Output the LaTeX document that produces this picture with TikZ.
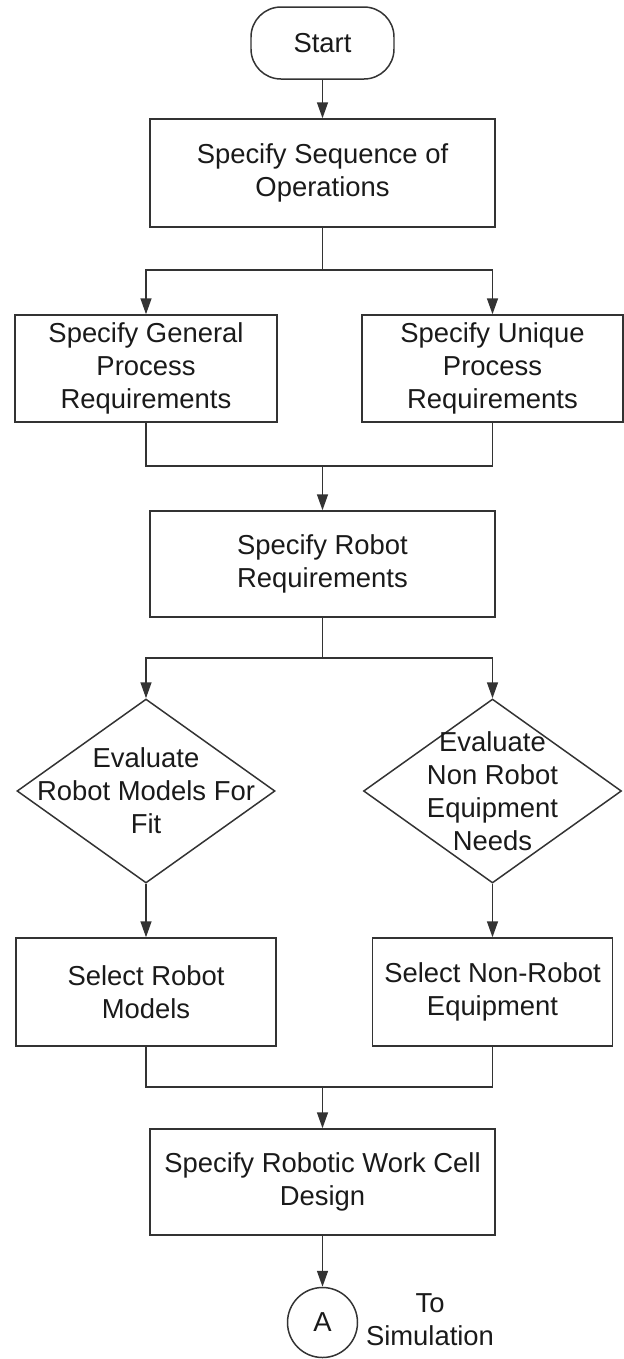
\documentclass[tikz,border=0pt]{standalone}
\usepackage{fontspec}
\setmainfont{Liberation Sans}
\usetikzlibrary{arrows.meta, shapes.geometric}
\definecolor{lineclr}{HTML}{333333}
\definecolor{txtclr}{HTML}{1A1A1A}

\begin{document}
\begin{tikzpicture}[>={Triangle[length=3.2mm, width=2.2mm]}, line width=0.85pt,
  every node/.style={font=\fontsize{15.6}{18.8}\selectfont, text=txtclr},
  procbox/.style={draw=lineclr, rectangle, align=center, minimum width=6.9cm, minimum height=2.14cm, inner sep=2pt},
  decision/.style={draw=lineclr, diamond, minimum width=5.16cm, minimum height=3.68cm, inner sep=0pt},
  flow/.style={draw=lineclr, ->}]

% Canvas
\useasboundingbox (0,0) rectangle (12.48,-27.18);

% Terminal
\node[draw=lineclr, rounded corners=0.6cm, minimum width=2.86cm, minimum height=1.44cm] (start) at (6.45,-0.86) {Start};

% Process steps
\node[procbox, minimum height=2.16cm] (ops) at (6.45,-3.46) {Specify Sequence of\\Operations};
\node[procbox, minimum width=5.24cm] (general) at (2.92,-7.37) {Specify General\\Process\\Requirements};
\node[procbox, minimum width=5.22cm] (unique) at (9.85,-7.37) {Specify Unique\\Process\\Requirements};
\node[procbox, minimum height=2.12cm] (robotreq) at (6.45,-11.28) {Specify Robot\\Requirements};

% Decisions
\node[decision, label={[align=center]center:Evaluate\\Robot Models For\\Fit}] (evalrobot) at (2.92,-15.82) {};
\node[decision, label={[align=center]center:Evaluate\\Non Robot\\Equipment\\Needs}] (evalequip) at (9.85,-15.82) {};

% Selection
\node[procbox, minimum width=5.2cm, minimum height=2.16cm] (selrobot) at (2.92,-19.84) {Select Robot\\Models};
\node[procbox, minimum width=4.8cm, minimum height=2.16cm] (selequip) at (9.85,-19.84) {Select Non-Robot\\Equipment};
\node[procbox, minimum height=2.12cm] (cell) at (6.45,-23.64) {Specify Robotic Work Cell\\Design};

% Off-page connector
\node[draw=lineclr, circle, minimum size=1.4cm, inner sep=0pt] (conA) at (6.45,-26.45) {A};
\node[align=center] (tosim) at (8.6,-26.4) {To\\Simulation};

% Branch and join points
\coordinate (split1) at (6.45,-5.4);
\coordinate (join1) at (6.45,-9.32);
\coordinate (split2) at (6.45,-13.16);
\coordinate (join2) at (6.45,-21.74);

% Connectors
\draw[flow] (start) -- (ops);
\draw[lineclr] (ops) -- (split1);
\draw[flow] (split1) -| (general);
\draw[flow] (split1) -| (unique);
\draw[lineclr] (general) |- (join1) -| (unique);
\draw[flow] (join1) -- (robotreq);
\draw[lineclr] (robotreq) -- (split2);
\draw[flow] (split2) -| (evalrobot);
\draw[flow] (split2) -| (evalequip);
\draw[flow] (evalrobot) -- (selrobot);
\draw[flow] (evalequip) -- (selequip);
\draw[lineclr] (selrobot) |- (join2) -| (selequip);
\draw[flow] (join2) -- (cell);
\draw[flow] (cell) -- (conA);

\end{tikzpicture}
\end{document}
